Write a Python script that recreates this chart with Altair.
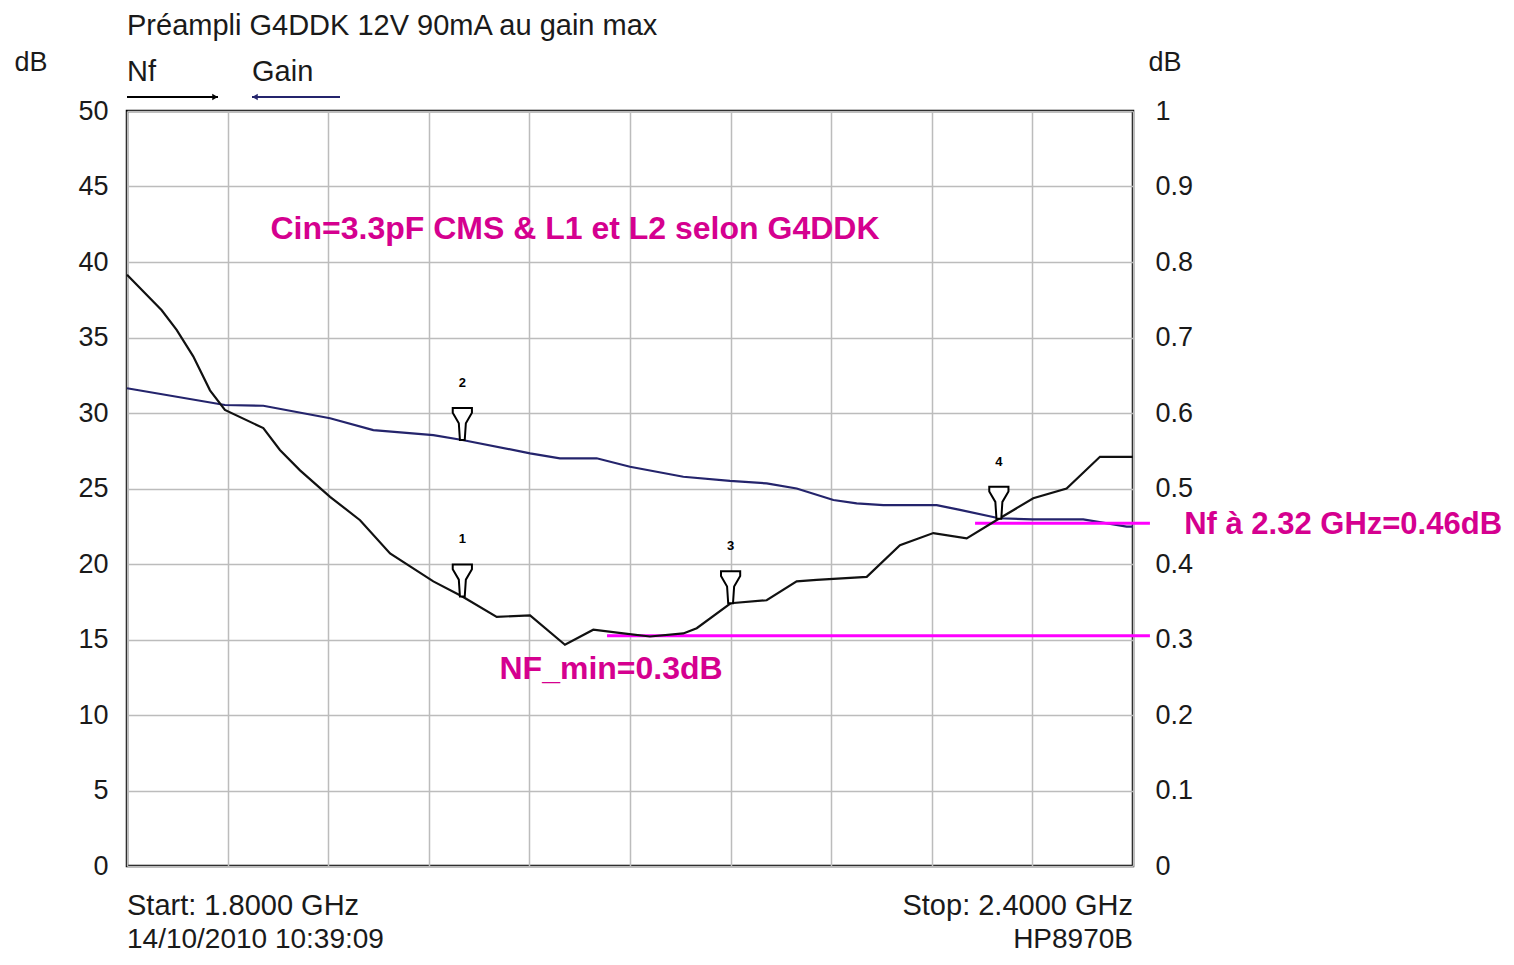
import altair as alt
import pandas as pd

# ---------------- data ----------------
freq_nf = [1.8, 1.8207, 1.8296, 1.8395, 1.8495, 1.8584, 1.8813, 1.8912, 1.9032, 1.9211,
           1.939, 1.9569, 1.9827, 2.0, 2.0205, 2.0404, 2.0612, 2.0781, 2.096, 2.1119,
           2.1318, 2.1398, 2.16, 2.1815, 2.1994, 2.2113, 2.2412, 2.261, 2.2809, 2.3008,
           2.32, 2.3405, 2.3604, 2.3803, 2.4]
nf_db = [0.783, 0.736, 0.71, 0.675, 0.63, 0.604, 0.58, 0.551, 0.524, 0.489,
         0.458, 0.414, 0.377, 0.357, 0.33, 0.332, 0.293, 0.313, 0.308, 0.304,
         0.308, 0.315, 0.348, 0.352, 0.377, 0.379, 0.383, 0.425, 0.441, 0.434,
         0.46, 0.487, 0.50, 0.542, 0.542]

freq_gain = [1.8, 1.8584, 1.8813, 1.9211, 1.9469, 1.9827, 2.0, 2.0404, 2.0582, 2.0801,
             2.1, 2.1318, 2.1596, 2.1815, 2.1994, 2.2213, 2.2352, 2.2511, 2.2829, 2.2968,
             2.32, 2.34, 2.3584, 2.3703, 2.3962, 2.4]
gain_db = [31.64, 30.53, 30.48, 29.65, 28.87, 28.54, 28.21, 27.33, 27.0, 27.0,
           26.44, 25.78, 25.5, 25.34, 25.0, 24.24, 24.02, 23.9, 23.9, 23.58,
           23.03, 22.95, 22.95, 22.95, 22.47, 22.47]

# markers: label, frequency, series
marker_labels = ["1", "2", "3", "4"]
marker_freqs = [2.0, 2.0, 2.16, 2.32]
marker_series = ["nf", "gain", "nf", "nf"]

gain_ticks = [0, 5, 10, 15, 20, 25, 30, 35, 40, 45, 50]
nf_ticks = [0, 0.1, 0.2, 0.3, 0.4, 0.5, 0.6, 0.7, 0.8, 0.9, 1.0]
x_grid = [1.8, 1.86, 1.92, 1.98, 2.04, 2.1, 2.16, 2.22, 2.28, 2.34, 2.4]

# annotation lines (NF units)
ann_line_f1 = [2.0863, 2.3058]
ann_line_f2 = [2.4101, 2.4101]
ann_line_nf = [0.305, 0.454]

# annotation texts (NF units)
ann_text = ["Cin=3.3pF CMS & L1 et L2 selon G4DDK", "NF_min=0.3dB", "Nf à 2.32 GHz=0.46dB"]
ann_text_f = [2.0672, 2.0887, 2.4305]
ann_text_nf = [0.844, 0.261, 0.452]
ann_text_align = ["center", "center", "left"]

# ---------------- tables ----------------
df_nf = pd.DataFrame({"f": freq_nf, "v": nf_db})
df_gain = pd.DataFrame({"f": freq_gain, "v": gain_db})

mk_rows = []
for lab, fr, s in zip(marker_labels, marker_freqs, marker_series):
    if s == "nf":
        val = nf_db[freq_nf.index(fr)]
    else:
        val = gain_db[freq_gain.index(fr)]
    mk_rows.append({"f": fr, "v": val, "label": lab, "s": s})
df_mk = pd.DataFrame(mk_rows)
df_mk_nf = df_mk[df_mk.s == "nf"]
df_mk_gain = df_mk[df_mk.s == "gain"]

df_lines = pd.DataFrame({"f1": ann_line_f1, "f2": ann_line_f2, "v": ann_line_nf})
df_txt = pd.DataFrame({"f": ann_text_f, "v": ann_text_nf, "t": ann_text, "a": ann_text_align})

W, H = 1006, 755
FONT = "Arial, Liberation Sans, sans-serif"
TXT = "#1a1a1a"
PINK_T = "#D5008F"
PINK_L = "#FF00FF"
NAVY = "#24246c"

x_axis = alt.Axis(values=x_grid, labels=False, ticks=False, domain=False, title=None,
                  grid=True, gridColor="#bcbcbc", gridWidth=1.5)
X = lambda field="f": alt.X(f"{field}:Q", scale=alt.Scale(domain=[1.8, 2.4], nice=False, zero=False),
                            axis=x_axis)

y_gain_axis = alt.Axis(orient="left", values=gain_ticks, domain=False, ticks=False,
                       labelPadding=19, labelFontSize=27, labelFont=FONT, labelColor=TXT,
                       grid=True, gridColor="#bcbcbc", gridWidth=1.5,
                       title="dB", titleAngle=0, titleX=-113, titleY=-49, titleAlign="left",
                       titleBaseline="middle", titleFontSize=27, titleFont=FONT,
                       titleFontWeight="normal", titleColor=TXT)
y_nf_axis = alt.Axis(orient="right", values=nf_ticks, format="~g", domain=False, ticks=False,
                     labelPadding=22, labelFontSize=27, labelFont=FONT, labelColor=TXT,
                     grid=False,
                     title="dB", titleAngle=0, titleX=15, titleY=-49, titleAlign="left",
                     titleBaseline="middle", titleFontSize=27, titleFont=FONT,
                     titleFontWeight="normal", titleColor=TXT)
YG = alt.Y("v:Q", scale=alt.Scale(domain=[0, 50], nice=False, zero=False), axis=y_gain_axis)
YN = alt.Y("v:Q", scale=alt.Scale(domain=[0, 1], nice=False, zero=False), axis=y_nf_axis)

marker_path = "M-0.6,-1 L0.6,-1 L0.6,-0.7 L0.22,-0.05 L0.15,1 L-0.15,1 L-0.22,-0.05 L-0.6,-0.7 Z"

# ---------------- gain group ----------------
gain_line = alt.Chart(df_gain).mark_line(color=NAVY, strokeWidth=2.2).encode(x=X(), y=YG)
gain_mk = alt.Chart(df_mk_gain).mark_point(shape=marker_path, size=1024, filled=True, fill="white",
                                            stroke="black", strokeWidth=2, opacity=1,
                                            yOffset=-16).encode(x=X(), y=YG)
gain_mk_t = alt.Chart(df_mk_gain).mark_text(fontSize=13, fontWeight="bold", color="black",
                                            yOffset=-57, font=FONT).encode(x=X(), y=YG, text="label:N")

# header / footer texts (positioned relative to the plot frame)
hdr = pd.DataFrame({
    "t": ["Préampli G4DDK 12V 90mA au gain max", "Nf", "Gain",
          "Start: 1.8000 GHz", "Stop: 2.4000 GHz", "14/10/2010 10:39:09", "HP8970B"],
    "px": [0, 0, 125, 0, W, 0, W],
    "py": [-76, -30, -30, H + 49, H + 49, H + 82, H + 82],
    "fs": [29, 29, 29, 29, 29, 28, 28],
    "al": ["left", "left", "left", "left", "right", "left", "right"],
})
hdr_left = alt.Chart(hdr[hdr.al == "left"]).mark_text(align="left", baseline="alphabetic",
                                                       font=FONT, color=TXT).encode(
    x=alt.X("px:Q", scale=None), y=alt.Y("py:Q", scale=None), text="t:N",
    size=alt.Size("fs:Q", scale=None))
hdr_right = alt.Chart(hdr[hdr.al == "right"]).mark_text(align="right", baseline="alphabetic",
                                                         font=FONT, color=TXT).encode(
    x=alt.X("px:Q", scale=None), y=alt.Y("py:Q", scale=None), text="t:N",
    size=alt.Size("fs:Q", scale=None))

arrows = pd.DataFrame({"x1": [0, 125], "x2": [91, 213], "y": [-14, -14], "c": ["black", NAVY]})
arrow_lines = alt.Chart(arrows).mark_rule(strokeWidth=2).encode(
    x=alt.X("x1:Q", scale=None), x2="x2:Q", y=alt.Y("y:Q", scale=None),
    color=alt.Color("c:N", scale=None))
heads = pd.DataFrame({"x": [88, 128], "y": [-14, -14], "c": ["black", NAVY],
                      "sh": ["triangle-right", "triangle-left"]})
arrow_heads = alt.Chart(heads).mark_point(filled=True, size=40, opacity=1).encode(
    x=alt.X("x:Q", scale=None), y=alt.Y("y:Q", scale=None),
    color=alt.Color("c:N", scale=None), shape=alt.Shape("sh:N", scale=None))

gain_group = alt.layer(gain_line, gain_mk, gain_mk_t, hdr_left, hdr_right, arrow_lines, arrow_heads)

# ---------------- NF group ----------------
nf_line = alt.Chart(df_nf).mark_line(color="#111111", strokeWidth=2.2).encode(x=X(), y=YN)
ann_rules = alt.Chart(df_lines).mark_rule(color=PINK_L, strokeWidth=3, clip=False).encode(
    x=X("f1"), x2="f2:Q", y=YN)
nf_mk = alt.Chart(df_mk_nf).mark_point(shape=marker_path, size=1024, filled=True, fill="white",
                                        stroke="black", strokeWidth=2, opacity=1,
                                        yOffset=-16).encode(x=X(), y=YN)
nf_mk_t = alt.Chart(df_mk_nf).mark_text(fontSize=13, fontWeight="bold", color="black",
                                        yOffset=-57, font=FONT).encode(x=X(), y=YN, text="label:N")
txt_c = alt.Chart(df_txt[df_txt.a == "center"]).mark_text(
    align="center", baseline="middle", fontSize=32, fontWeight="bold", font=FONT,
    color=PINK_T, clip=False).encode(x=X(), y=YN, text="t:N")
txt_l = alt.Chart(df_txt[df_txt.a == "left"]).mark_text(
    align="left", baseline="middle", fontSize=31, fontWeight="bold", font=FONT,
    color=PINK_T, clip=False).encode(x=X(), y=YN, text="t:N")

nf_group = alt.layer(ann_rules, nf_line, nf_mk, nf_mk_t, txt_c, txt_l)

chart = alt.layer(gain_group, nf_group).resolve_scale(y="independent").properties(
    width=W, height=H,
    autosize=alt.AutoSizeParams(type="none"),
    padding={"left": 119, "top": 103, "right": 373, "bottom": 90},
    background="white",
).configure_view(stroke="black", strokeWidth=2.5)

chart.save("out.html", embed_options={"renderer": "svg", "actions": False})
